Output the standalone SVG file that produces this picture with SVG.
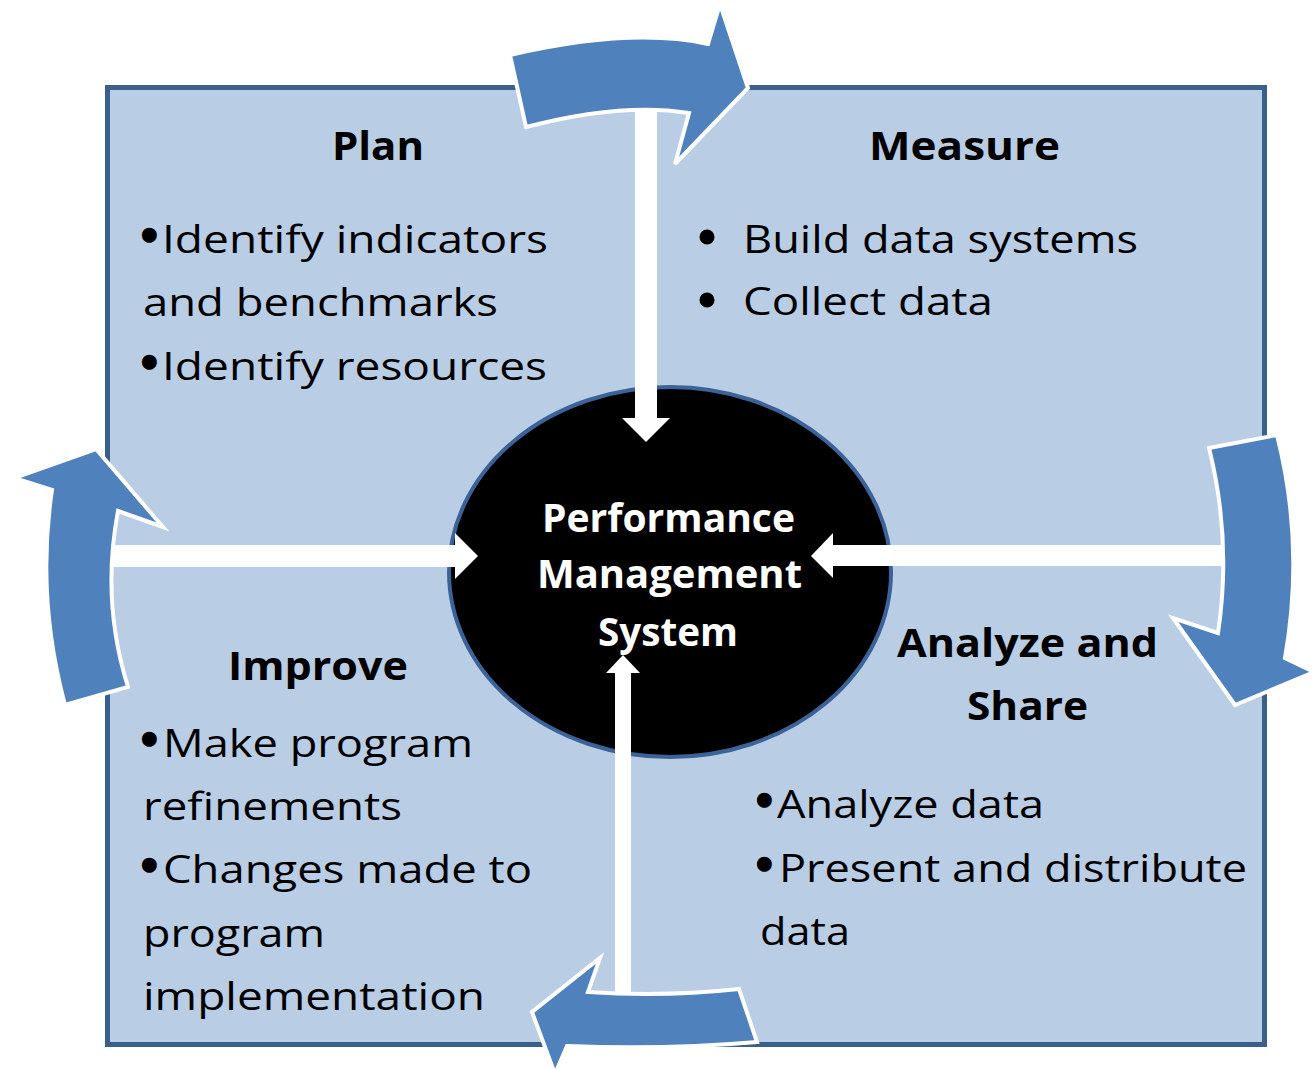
<svg xmlns="http://www.w3.org/2000/svg" width="1314" height="1069" viewBox="0 0 1314 1069">
<style>
.txt{font-family:"Open Sans","Liberation Sans",sans-serif;font-size:39px;fill:#000}
.hd{font-weight:bold}
.b{font-family:"Liberation Sans",sans-serif;font-size:42px;stroke:#000;stroke-width:3.5;stroke-linejoin:round}
.ctr{font-family:"Open Sans","Liberation Sans",sans-serif;font-size:40px;font-weight:bold;fill:#fff}
.cyc{fill:#4F81BD;stroke:#fff;stroke-width:4;stroke-linejoin:miter}
.bar{fill:#fff}
</style>
<rect width="1314" height="1069" fill="#fff"/>
<g id="panel">
<rect x="107.5" y="87.5" width="1157" height="957" fill="#B9CDE5" stroke="#3A5F8B" stroke-width="5"/>
</g>
<g id="center">
<ellipse cx="670" cy="572" rx="221" ry="185" fill="#000" stroke="#3B6397" stroke-width="4"/>
<text class="ctr" x="542" y="532" textLength="253" lengthAdjust="spacingAndGlyphs">Performance</text>
<text class="ctr" x="537" y="588" textLength="265" lengthAdjust="spacingAndGlyphs">Management</text>
<text class="ctr" x="598" y="646" textLength="140" lengthAdjust="spacingAndGlyphs">System</text>
</g>
<g id="connectors">
<path class="bar" d="M635,95 H657 V418 H670 L646,442 L622,418 H635 Z"/>
<path class="bar" d="M110,545 H455 V533 L478,556 L455,579 V567 H110 Z"/>
<path class="bar" d="M1223,545 H833 V533 L811,556 L833,578 V566 H1223 Z"/>
<path class="bar" d="M615,1000 V673 H606 L623,655 L640,673 H631 V1000 Z"/>
<path class="cyc" d="M510,55 Q631,27 708,44 L720,4 L748,88 L675,164 L689,113 Q622,102 526,127 Z"/>
<path class="cyc" d="M1209,448 L1277,435 Q1305,545 1285,658 L1314,672 L1235,705 L1173,618 L1218,633 Q1232,540 1209,448 Z"/>
<path class="cyc" d="M739,989 L757,1042 Q665,1050 567,1046 L555,1074 L532,1012 L600,958 L588,992 Q665,997 739,989 Z"/>
<path class="cyc" d="M65,705 Q36,597 52,490 L14,478 L96,449 L163,527 L118,511 Q101,601 128,687 Z"/>
</g>
<g id="plan">
<text class="txt hd" x="332" y="160" textLength="92" lengthAdjust="spacingAndGlyphs">Plan</text>
<text class="txt"><tspan class="b" x="142" y="249">•</tspan><tspan x="162" y="253" textLength="386" lengthAdjust="spacingAndGlyphs">Identify indicators</tspan></text>
<text class="txt" x="143" y="316" textLength="355" lengthAdjust="spacingAndGlyphs">and benchmarks</text>
<text class="txt"><tspan class="b" x="142" y="376">•</tspan><tspan x="162" y="380" textLength="385" lengthAdjust="spacingAndGlyphs">Identify resources</tspan></text>
</g>
<g id="measure">
<text class="txt hd" x="869" y="160" textLength="191" lengthAdjust="spacingAndGlyphs">Measure</text>
<circle cx="707" cy="237" r="7.5"/>
<text class="txt" x="743" y="253" textLength="395" lengthAdjust="spacingAndGlyphs">Build data systems</text>
<circle cx="707" cy="300" r="7.5"/>
<text class="txt" x="743" y="315" textLength="250" lengthAdjust="spacingAndGlyphs">Collect data</text>
</g>
<g id="improve">
<text class="txt hd" x="228" y="680" textLength="180" lengthAdjust="spacingAndGlyphs">Improve</text>
<text class="txt"><tspan class="b" x="142" y="753">•</tspan><tspan x="163" y="757" textLength="310" lengthAdjust="spacingAndGlyphs">Make program</tspan></text>
<text class="txt" x="143" y="820" textLength="259" lengthAdjust="spacingAndGlyphs">refinements</text>
<text class="txt"><tspan class="b" x="142" y="879">•</tspan><tspan x="163" y="883" textLength="369" lengthAdjust="spacingAndGlyphs">Changes made to</tspan></text>
<text class="txt" x="143" y="947" textLength="182" lengthAdjust="spacingAndGlyphs">program</text>
<text class="txt" x="143" y="1010" textLength="342" lengthAdjust="spacingAndGlyphs">implementation</text>
</g>
<g id="analyze">
<text class="txt hd" x="897" y="657" textLength="261" lengthAdjust="spacingAndGlyphs">Analyze and</text>
<text class="txt hd" x="967" y="720" textLength="121" lengthAdjust="spacingAndGlyphs">Share</text>
<text class="txt"><tspan class="b" x="757" y="814">•</tspan><tspan x="777" y="818" textLength="267" lengthAdjust="spacingAndGlyphs">Analyze data</tspan></text>
<text class="txt"><tspan class="b" x="757" y="878">•</tspan><tspan x="779" y="882" textLength="468" lengthAdjust="spacingAndGlyphs">Present and distribute</tspan></text>
<text class="txt" x="760" y="945" textLength="90" lengthAdjust="spacingAndGlyphs">data</text>
</g>
</svg>
